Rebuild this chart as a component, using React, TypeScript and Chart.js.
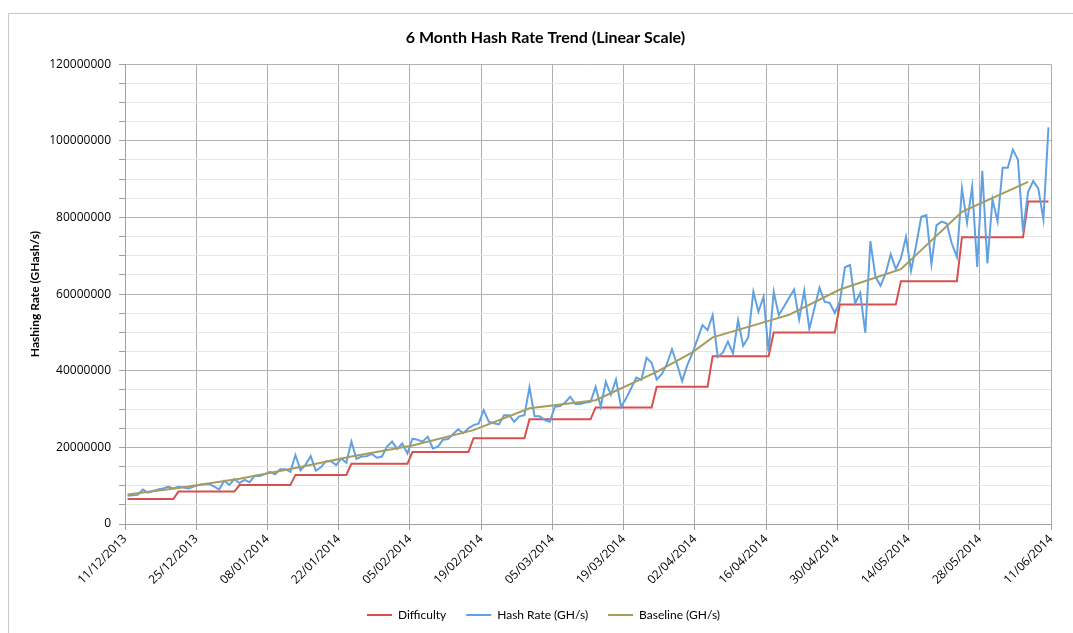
import React, { useEffect, useRef } from 'react';
import { Chart, registerables } from 'chart.js';

Chart.register(...registerables);

// ---- data -------------------------------------------------------------
// first day of the axis: 11/12/2013
const startYear = 2013;
const startMonth = 11; // December (0-based)
const startDay = 11;
const axisDays = 182;
const tickEveryDays = 14;

// daily hash rate, millions of GH/s (day 0 = 11/12/2013)
const hashRateM = [
  7.4, 7.5, 7.6, 9.0, 8.2, 8.6, 9.0, 9.3, 9.7, 9.3,
  9.7, 9.5, 9.3, 9.8, 10.2, 10.4, 10.4, 9.8, 9.0, 11.3,
  10.2, 11.7, 10.7, 11.5, 10.9, 12.6, 12.5, 13.0, 13.6, 13.0,
  14.3, 14.3, 13.6, 18.0, 14.0, 15.5, 17.7, 13.9, 14.8, 16.4,
  16.4, 15.4, 17.1, 16.0, 21.5, 17.0, 17.6, 17.7, 18.3, 17.3,
  17.6, 20.2, 21.5, 19.6, 21.0, 18.4, 22.3, 22.0, 21.5, 22.8,
  19.7, 20.2, 22.0, 22.2, 23.5, 24.7, 23.7, 25.0, 25.8, 26.2,
  29.7, 26.7, 26.3, 26.0, 28.4, 28.4, 26.7, 28.1, 28.4, 35.7,
  28.1, 28.1, 27.1, 26.7, 30.6, 30.8, 31.7, 33.2, 31.3, 31.3,
  31.7, 31.9, 35.8, 30.6, 37.1, 33.7, 37.7, 30.6, 32.8, 35.5,
  38.2, 37.6, 43.4, 42.1, 37.7, 39.1, 41.7, 45.6, 41.7, 37.3,
  41.4, 44.5, 48.2, 51.9, 50.6, 54.5, 43.6, 44.7, 47.6, 44.5,
  53.2, 46.5, 48.7, 60.6, 55.4, 59.3, 44.9, 60.6, 54.5, 56.7,
  59.0, 61.2, 53.4, 60.9, 50.9, 56.3, 61.7, 58.0, 57.7, 55.1,
  58.0, 67.0, 67.6, 57.6, 60.3, 49.9, 73.8, 64.5, 62.2, 65.4,
  70.4, 66.5, 69.3, 74.9, 66.1, 72.8, 80.2, 80.6, 67.8, 78.0,
  78.9, 78.4, 73.2, 69.7, 87.6, 78.6, 88.0, 67.1, 92.2, 68.0,
  84.7, 79.0, 93.0, 93.0, 97.7, 95.1, 76.3, 86.7, 89.5, 87.6,
  79.5, 103.5,
];

// difficulty (as GH/s equivalent, millions): day each level starts, and level
const difficultyStartDay = [0, 10, 22, 33, 44, 56, 68, 79, 92, 104, 115, 127, 140, 152, 164, 177];
const difficultyM = [6.50, 8.45, 10.15, 12.81, 15.70, 18.76, 22.40, 27.31, 30.42, 35.84, 43.81, 49.96, 57.27, 63.38, 74.85, 84.16];

// baseline (GH/s, millions) read at these days
const baselineDay = [0, 10, 22, 33, 44, 56, 68, 79, 92, 104, 111, 115, 127, 130, 140, 152, 164, 177];
const baselineM = [7.7, 9.4, 11.8, 14.6, 17.6, 20.5, 24.5, 30.2, 32.3, 39.7, 44.8, 48.7, 53.4, 54.6, 61.2, 66.5, 81.5, 89.3];

const yMax = 120000000;
const yMinorStep = 5000000;
const yMajorStep = 20000000;

const seriesNames = ['Difficulty', 'Hash Rate (GH/s)', 'Baseline (GH/s)'];
const seriesColors = ['#d6504d', '#62a1e0', '#a59c60'];

// ---- helpers ------------------------------------------------------------
const MILLION = 1000000;
const DAY_CENTER = 0.5; // each daily value sits in the middle of its day

function dateLabel(dayOffset: number): string {
  const d = new Date(Date.UTC(startYear, startMonth, startDay + Math.round(dayOffset)));
  const dd = String(d.getUTCDate()).padStart(2, '0');
  const mm = String(d.getUTCMonth() + 1).padStart(2, '0');
  return `${dd}/${mm}/${d.getUTCFullYear()}`;
}

function difficultyOnDay(day: number): number {
  let level = difficultyM[0];
  for (let i = 0; i < difficultyStartDay.length; i++) {
    if (difficultyStartDay[i] <= day) level = difficultyM[i];
  }
  return level;
}

const FONT = 'Lato, "Open Sans", "DejaVu Sans", sans-serif';
const TICK_FONT = '"Open Sans", Lato, "DejaVu Sans", sans-serif';
const LEGEND_SHIFT = 6;
const TITLE_SHIFT = 8;

const boxShift = {
  id: 'boxShift',
  afterLayout(chart: any) {
    const l = chart.legend;
    if (l) {
      l.left += LEGEND_SHIFT;
      l.right += LEGEND_SHIFT;
    }
    const t = chart.titleBlock;
    if (t) {
      t.left += TITLE_SHIFT;
      t.right += TITLE_SHIFT;
    }
  },
};

export default function App() {
  const ref = useRef<HTMLCanvasElement | null>(null);

  useEffect(() => {
    if (!ref.current) return;
    const hashPts = hashRateM.map((v, i) => ({ x: i + DAY_CENTER, y: v * MILLION }));
    const diffPts = hashRateM.map((_, i) => ({ x: i + DAY_CENTER, y: difficultyOnDay(i) * MILLION }));
    const basePts = baselineDay.map((d, i) => ({ x: d + DAY_CENTER, y: baselineM[i] * MILLION }));

    const common = { pointRadius: 0, pointHoverRadius: 0, borderWidth: 2, tension: 0, fill: false };

    const chart = new Chart(ref.current, {
      type: 'line',
      data: {
        datasets: [
          { ...common, label: seriesNames[0], data: diffPts, borderColor: seriesColors[0], backgroundColor: seriesColors[0], order: 3 },
          { ...common, label: seriesNames[1], data: hashPts, borderColor: seriesColors[1], backgroundColor: seriesColors[1], order: 2 },
          { ...common, label: seriesNames[2], data: basePts, borderColor: seriesColors[2], backgroundColor: seriesColors[2], order: 1 },
        ],
      },
      options: {
        animation: false,
        responsive: false,
        maintainAspectRatio: false,
        events: [],
        layout: { padding: { left: 24, right: 22, top: 0, bottom: 2 } },
        plugins: {
          title: {
            display: true,
            text: '6 Month Hash Rate Trend (Linear Scale)',
            color: '#000',
            font: { family: FONT, size: 16, weight: 'bold' },
            padding: { top: 28, bottom: 17 },
          },
          legend: {
            position: 'bottom',
            labels: {
              usePointStyle: true,
              pointStyle: 'line',
              pointStyleWidth: 25,
              boxHeight: 12,
              padding: 20,
              color: '#000',
              font: { family: FONT, size: 12 },
              sort: (a: any, b: any) => a.datasetIndex - b.datasetIndex,
            },
          },
          tooltip: { enabled: false },
        },
        scales: {
          x: {
            type: 'linear',
            min: 0,
            max: axisDays,
            afterFit: (s: any) => { s.height = 65; },
            ticks: {
              stepSize: tickEveryDays,
              autoSkip: false,
              maxRotation: 45,
              minRotation: 45,
              padding: 2,
              color: '#000',
              font: { family: TICK_FONT, size: 12 },
              callback: (v: any) => dateLabel(Number(v)),
            },
            grid: { color: '#adadad', tickColor: '#a0a0a0', tickLength: 6, lineWidth: 1 },
            border: { color: '#a0a0a0' },
          },
          y: {
            type: 'linear',
            min: 0,
            max: yMax,
            afterFit: (s: any) => { s.width = 101; },
            ticks: {
              stepSize: yMinorStep,
              autoSkip: false,
              padding: 8,
              color: '#000',
              font: { family: TICK_FONT, size: 12 },
              callback: (v: any) => (Number(v) % yMajorStep === 0 ? String(v) : ''),
            },
            grid: {
              color: (ctx: any) => (ctx.tick && ctx.tick.value % yMajorStep === 0 ? '#b3b3b3' : '#e6e6e6'),
              tickColor: '#a0a0a0',
              tickLength: 6,
            },
            border: { color: '#a0a0a0' },
            title: {
              display: true,
              text: 'Hashing Rate (GHash/s)',
              color: '#000',
              font: { family: FONT, size: 12, weight: 'bold' },
            },
          },
        },
      },
      plugins: [boxShift],
    } as any);

    return () => chart.destroy();
  }, []);

  return (
    <div style={{ position: 'absolute', left: 0, top: 0, width: 1073, height: 633, overflow: 'hidden', background: '#fff' }}>
      <div style={{ position: 'absolute', left: 8, top: 13, width: 1100, height: 700, border: '1px solid #c8c8c8', boxSizing: 'border-box' }} />
      <canvas ref={ref} width={1073} height={633} style={{ position: 'absolute', left: 0, top: 0, width: 1073, height: 633 }} />
    </div>
  );
}
